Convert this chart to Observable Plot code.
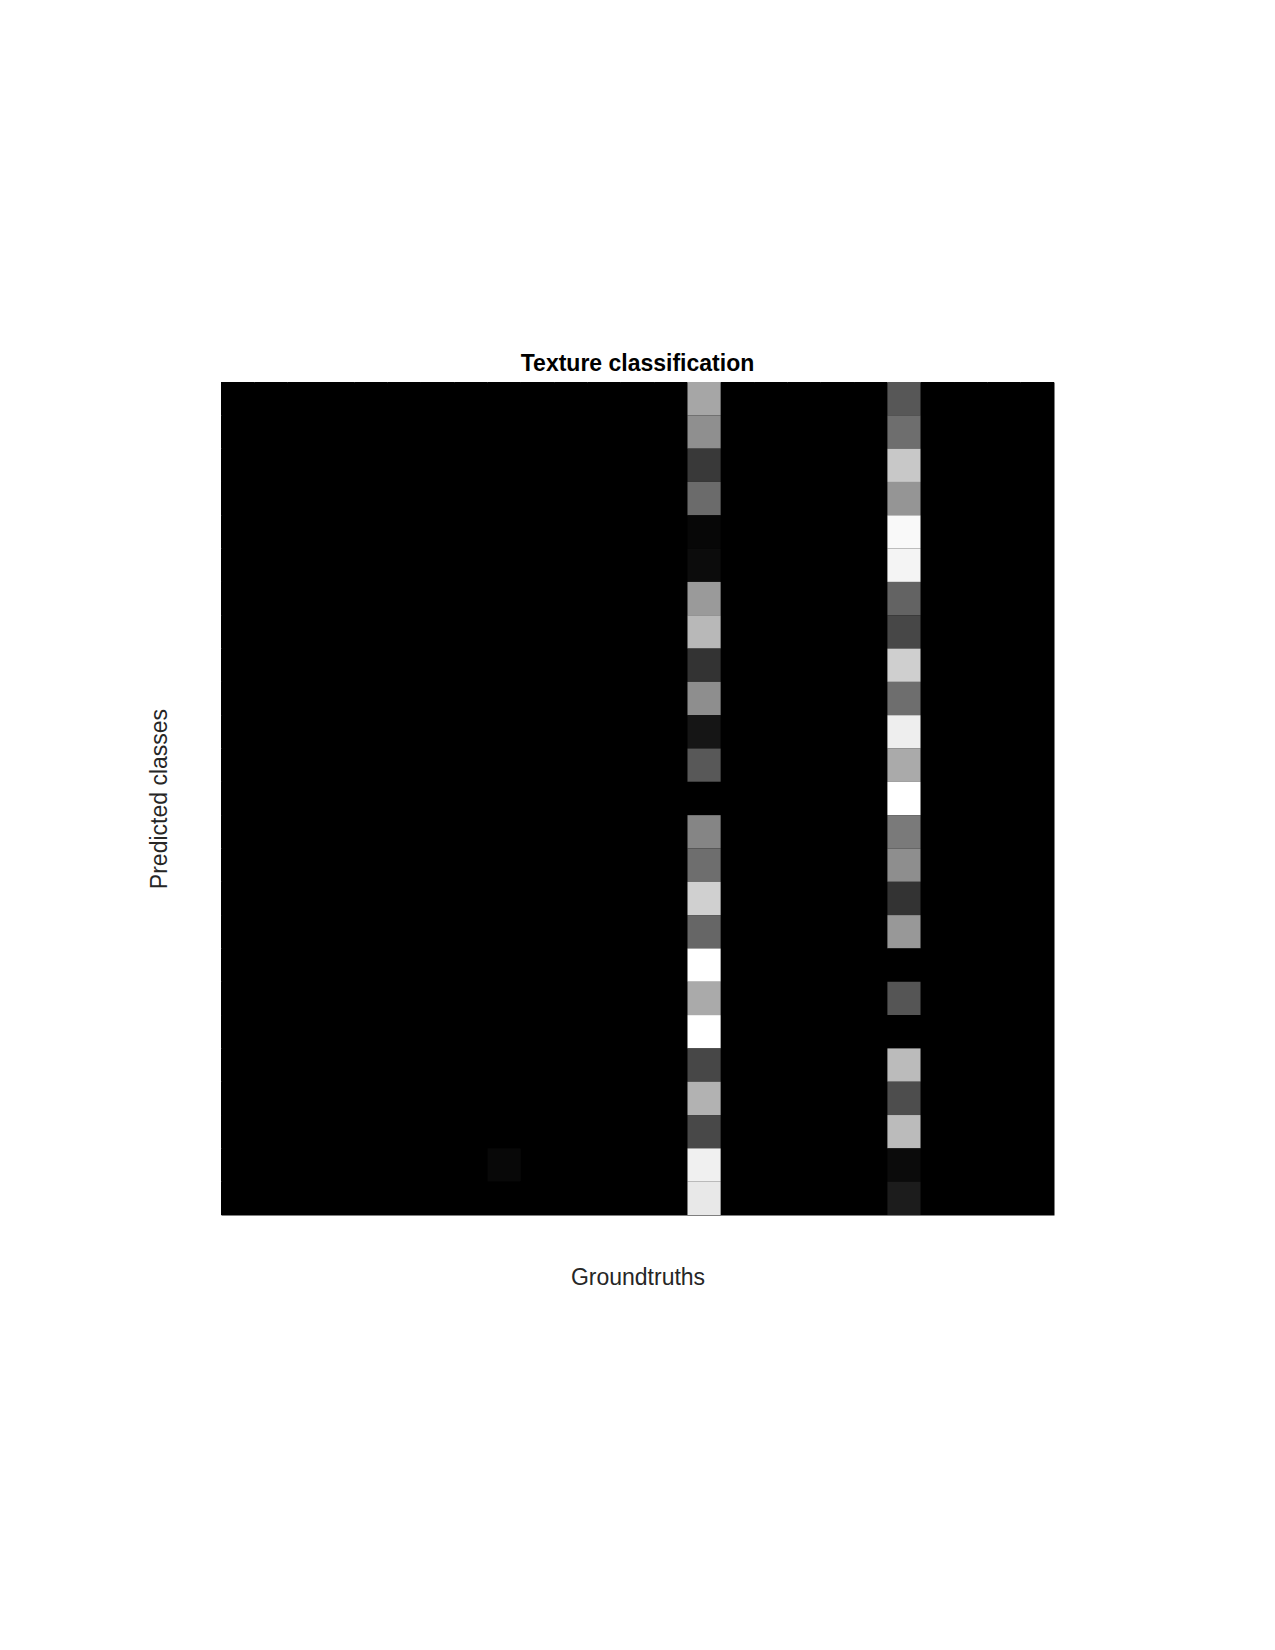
<!DOCTYPE html>
<html>
<head>
<meta charset="utf-8">
<script src="https://cdn.jsdelivr.net/npm/d3@7"></script>
<script src="https://cdn.jsdelivr.net/npm/@observablehq/plot@0.6"></script>
<style>
  body { margin: 0; background: #ffffff; font-family: "Liberation Sans", Arial, sans-serif; }
  #title { padding-top: 350px; height: 26px; line-height: 26px; width: 1275px; text-align: center;
           font-weight: bold; font-size: 23px; color: #000; }
  #chart svg { display: block; }
</style>
</head>
<body>
<div id="title">Texture classification</div>
<div id="chart"></div>
<script>
// 25 texture classes
const classes = [1,2,3,4,5,6,7,8,9,10,11,12,13,14,15,16,17,18,19,20,21,22,23,24,25];

// Normalised intensity of the predicted-class cells (rows 1..25) for groundtruth class 15
const groundtruth15 = [0.651,0.561,0.224,0.420,0.027,0.047,0.604,0.722,0.200,0.557,0.082,0.345,0.000,
                       0.522,0.431,0.816,0.400,1.000,0.667,1.000,0.278,0.698,0.282,0.941,0.910];
// ... for groundtruth class 21
const groundtruth21 = [0.341,0.431,0.784,0.584,0.976,0.957,0.388,0.278,0.812,0.431,0.933,0.667,1.000,
                       0.478,0.557,0.200,0.596,0.000,0.333,0.000,0.733,0.302,0.733,0.043,0.110];
// single faint cell: groundtruth 9, predicted 24
const faintGroundtruth = 9;
const faintPredicted = 24;
const faintValue = 0.031;

const columns = {15: groundtruth15, 21: groundtruth21};
const table = [];
for (const gt of classes) {
  for (const [i, pred] of classes.entries()) {
    let v = 0;
    if (columns[gt]) v = columns[gt][i];
    if (gt === faintGroundtruth && pred === faintPredicted) v = faintValue;
    table.push({groundtruth: gt, predicted: pred, value: v});
  }
}

const chart = Plot.plot({
  width: 1275,
  height: 929,
  marginLeft: 221,
  marginRight: 221,
  marginTop: 6,
  marginBottom: 90,
  style: {background: "transparent", fontFamily: "Liberation Sans, Arial, sans-serif"},
  x: {domain: classes, padding: 0, round: false, axis: null},
  y: {domain: classes, padding: 0, round: false, axis: null},
  color: {type: "linear", domain: [0, 1], range: ["#000000", "#ffffff"]},
  marks: [
    Plot.frame({fill: "#000", stroke: "none"}),
    Plot.cell(table, {x: "groundtruth", y: "predicted", fill: "value", inset: 0}),
    Plot.axisX({ticks: [], tickSize: 0, label: "Groundtruths", labelAnchor: "center", labelArrow: "none",
                labelOffset: 69, fontSize: 23, fill: "#262626"}),
    Plot.axisY({ticks: [], tickSize: 0, label: "Predicted classes", labelAnchor: "center", labelArrow: "none",
                labelOffset: 71, fontSize: 23, fill: "#262626"})
  ]
});
document.getElementById("chart").appendChild(chart);
</script>
</body>
</html>
